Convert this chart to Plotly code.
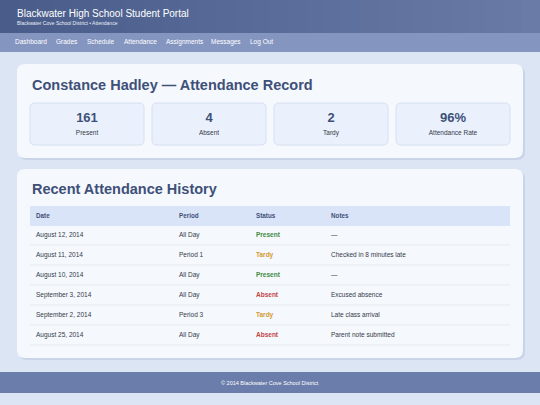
import plotly.graph_objects as go

nav_items = ["Dashboard", "Grades", "Schedule", "Attendance", "Assignments", "Messages", "Log Out"]
nav_x = [15, 56, 87, 124, 166, 211, 250]
stat_values = ["161", "4", "2", "96%"]
stat_labels = ["Present", "Absent", "Tardy", "Attendance Rate"]
dates = ["August 12, 2014", "August 11, 2014", "August 10, 2014", "September 3, 2014", "September 2, 2014", "August 25, 2014"]
periods = ["All Day", "Period 1", "All Day", "All Day", "Period 3", "All Day"]
statuses = ["Present", "Tardy", "Present", "Absent", "Tardy", "Absent"]
notes = ["—", "Checked in 8 minutes late", "—", "Excused absence", "Late class arrival", "Parent note submitted"]
headers = ["Date", "Period", "Status", "Notes"]
status_colors = {"Present": "#3d8b3d", "Tardy": "#d39a32", "Absent": "#c24646"}

FONT = "Liberation Sans, Arial, sans-serif"
DARK = "#3e5078"
TXT = "#333a48"

def rrect(x0, y0, x1, y1, r):
    return (f"M{x0+r},{y0} L{x1-r},{y0} Q{x1},{y0} {x1},{y0+r} L{x1},{y1-r} Q{x1},{y1} {x1-r},{y1} "
            f"L{x0+r},{y1} Q{x0},{y1} {x0},{y1-r} L{x0},{y0+r} Q{x0},{y0} {x0+r},{y0} Z")

shapes = []
n = 30
for i in range(n):
    t = i / (n - 1)
    c = tuple(int(a + (b - a) * t) for a, b in zip((0x4a, 0x5d, 0x8a), (0x6a, 0x7b, 0xa8)))
    shapes.append(dict(type="rect", x0=540 * i / n, x1=540 * (i + 1) / n + 1, y0=0, y1=33,
                       fillcolor=f"rgb{c}", line_width=0, layer="below"))
shapes.append(dict(type="rect", x0=0, x1=540, y0=33, y1=52, fillcolor="#8495c0", line_width=0, layer="below"))
for y0, y1 in [(64, 158), (169, 358)]:
    shapes.append(dict(type="path", path=rrect(19, y0 + 2, 525, y1 + 2, 8), fillcolor="rgba(120,140,180,0.18)", line_width=0, layer="below"))
    shapes.append(dict(type="path", path=rrect(17, y0, 523, y1, 8), fillcolor="#f5f8fd", line_width=0, layer="below"))
stat_x0 = [30, 152, 274, 396]
for x0 in stat_x0:
    shapes.append(dict(type="path", path=rrect(x0, 103, x0 + 114, 145, 5), fillcolor="#ebf1fc",
                       line=dict(color="#d6e0f2", width=1), layer="below"))
shapes.append(dict(type="rect", x0=30, x1=510, y0=206, y1=226, fillcolor="#dae4f8", line_width=0, layer="below"))
row_y = [235 + 20 * i for i in range(len(dates))]
for y in row_y:
    shapes.append(dict(type="line", x0=30, x1=510, y0=y + 10, y1=y + 10, line=dict(color="#e6ebf3", width=1)))
shapes.append(dict(type="rect", x0=0, x1=540, y0=372, y1=393, fillcolor="#6b7daa", line_width=0, layer="below"))

fig = go.Figure()
fig.add_trace(go.Scatter(x=nav_x, y=[42] * len(nav_x), text=nav_items, mode="text", textposition="middle right",
                         textfont=dict(family=FONT, size=6.5, color="white")))
cx = [x + 57 for x in stat_x0]
fig.add_trace(go.Scatter(x=cx, y=[119] * 4, text=[f"<b>{v}</b>" for v in stat_values], mode="text",
                         textfont=dict(family=FONT, size=13, color=DARK)))
fig.add_trace(go.Scatter(x=cx, y=[133] * 4, text=stat_labels, mode="text",
                         textfont=dict(family=FONT, size=6.5, color=TXT)))
col_x = [36, 179, 256, 331]
fig.add_trace(go.Scatter(x=col_x, y=[216] * 4, text=[f"<b>{h}</b>" for h in headers], mode="text",
                         textposition="middle right", textfont=dict(family=FONT, size=6.3, color=DARK)))
for cxx, col in zip([36, 179, 331], [dates, periods, notes]):
    fig.add_trace(go.Scatter(x=[cxx] * len(col), y=row_y, text=col, mode="text", textposition="middle right",
                             textfont=dict(family=FONT, size=6.5, color=TXT)))
fig.add_trace(go.Scatter(x=[256] * len(statuses), y=row_y, text=[f"<b>{s}</b>" for s in statuses], mode="text",
                         textposition="middle right",
                         textfont=dict(family=FONT, size=6.5, color=[status_colors[s] for s in statuses])))

ann = [
    dict(x=15, y=13, text="Blackwater High School Student Portal", font=dict(size=10, color="white")),
    dict(x=15, y=23, text="Blackwater Cove School District • Attendance", font=dict(size=5, color="#e8edf7")),
    dict(x=30, y=85, text="<b>Constance Hadley — Attendance Record</b>", font=dict(size=14.5, color=DARK)),
    dict(x=30, y=189, text="<b>Recent Attendance History</b>", font=dict(size=14.5, color=DARK)),
]
annotations = [dict(a, xanchor="left", yanchor="middle", showarrow=False, xref="x", yref="y",
                    font=dict(family=FONT, **a["font"])) for a in ann]
annotations.append(dict(x=270, y=382.5, text="© 2014 Blackwater Cove School District", showarrow=False,
                        xref="x", yref="y", font=dict(family=FONT, size=5.5, color="white")))

fig.update_layout(width=540, height=405, margin=dict(l=0, r=0, t=0, b=0), showlegend=False,
                  paper_bgcolor="#dbe5f4", plot_bgcolor="#dbe5f4", shapes=shapes, annotations=annotations,
                  xaxis=dict(range=[0, 540], visible=False, fixedrange=True),
                  yaxis=dict(range=[405, 0], visible=False, fixedrange=True))
fig.write_html("out.html", config=dict(displayModeBar=False),
               post_script="document.body.style.margin='0';document.body.style.overflow='hidden';document.body.style.background='#dbe5f4';")
